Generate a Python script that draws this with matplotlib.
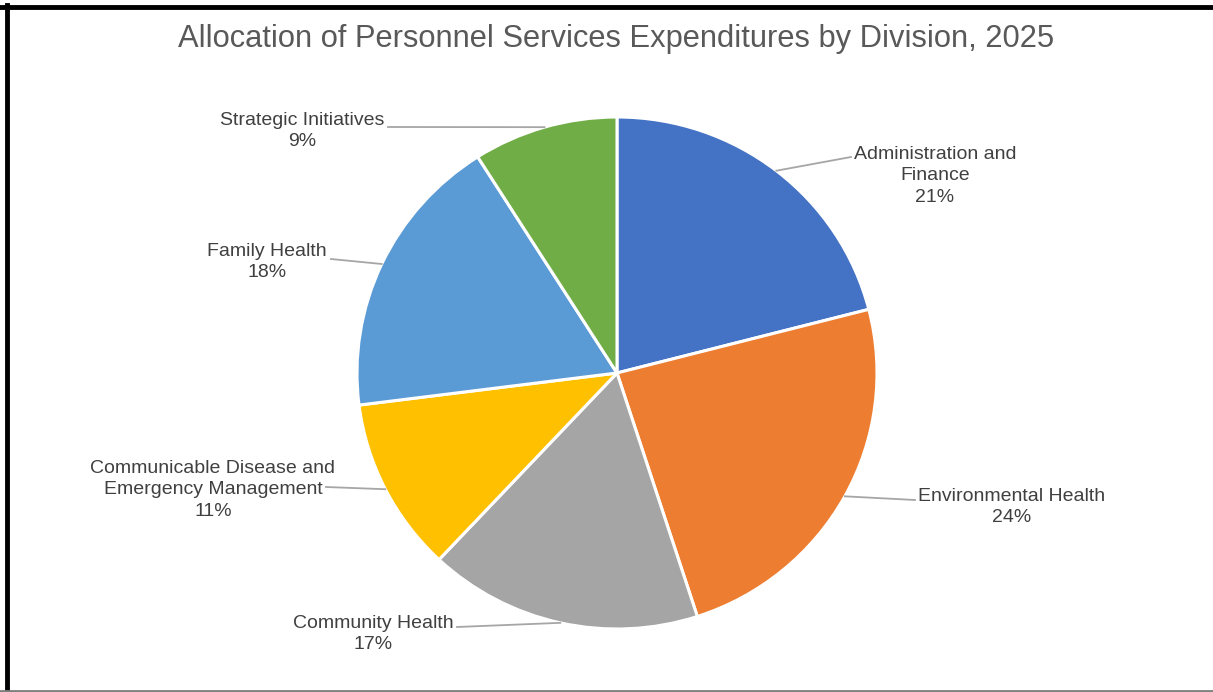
import numpy as np
import matplotlib.pyplot as plt
from matplotlib.lines import Line2D

plt.rcParams['font.family'] = ['Liberation Sans', 'DejaVu Sans']

divisions = ['Administration and\nFinance', 'Environmental Health', 'Community Health',
             'Communicable Disease and\nEmergency Management', 'Family Health',
             'Strategic Initiatives']
shares = [21, 24, 17, 11, 18, 9]
colors = ['#4472C4', '#ED7D31', '#A5A5A5', '#FFC000', '#5B9BD5', '#70AD47']

W, H = 1213, 692
cx, cy = 617, 373
rx, ry = 260, 256   # pie is drawn slightly wider than tall

# label centre and leader-line end, in pixels from the top-left corner
label_xy = [(935, 176), (1012, 507), (373, 634), (213, 490), (267, 262), (302, 131)]
anchor_xy = [(851, 157), (915, 500), (457, 627), (326, 487), (331, 259), (388, 127)]


def px(x, y):
    return (x - cx) / rx, (cy - y) / ry


fig = plt.figure(figsize=(W / 100, H / 100), dpi=100)
ax = fig.add_axes([0, 0, 1, 1])

wedges, _ = ax.pie(shares, colors=colors, startangle=90, counterclock=False, radius=1,
                   wedgeprops=dict(edgecolor='white', linewidth=2.2))
ax.set_xlim(-cx / rx, (W - cx) / rx)
ax.set_ylim(-(H - cy) / ry, cy / ry)
ax.set_aspect('auto')
ax.axis('off')

for w, name, val, lxy, axy in zip(wedges, divisions, shares, label_xy, anchor_xy):
    mid = np.deg2rad((w.theta1 + w.theta2) / 2)
    ex, ey = np.cos(mid), np.sin(mid)
    tx, ty = px(*axy)
    ax.plot([ex, tx], [ey, ty], color='#A6A6A6', lw=1.3, zorder=1)
    ax.text(*px(*lxy), f'{name}\n{val}%', ha='center', va='center', fontsize=14,
            color='#404040', linespacing=1.32)

fig.text(616 / W, 1 - 39 / H, 'Allocation of Personnel Services Expenditures by Division, 2025',
         ha='center', va='center', fontsize=22.2, color='#595959')

# frame around the chart
fig.add_artist(Line2D([0, 1], [1 - 7 / H, 1 - 7 / H], color='black', lw=3.5,
                      transform=fig.transFigure))
fig.add_artist(Line2D([7 / W, 7 / W], [0, 1 - 5 / H], color='black', lw=3.5,
                      transform=fig.transFigure))
fig.add_artist(Line2D([0, 1], [1 / H, 1 / H], color='#7F7F7F', lw=2,
                      transform=fig.transFigure))

fig.savefig('out.png', dpi=100, facecolor='white')
